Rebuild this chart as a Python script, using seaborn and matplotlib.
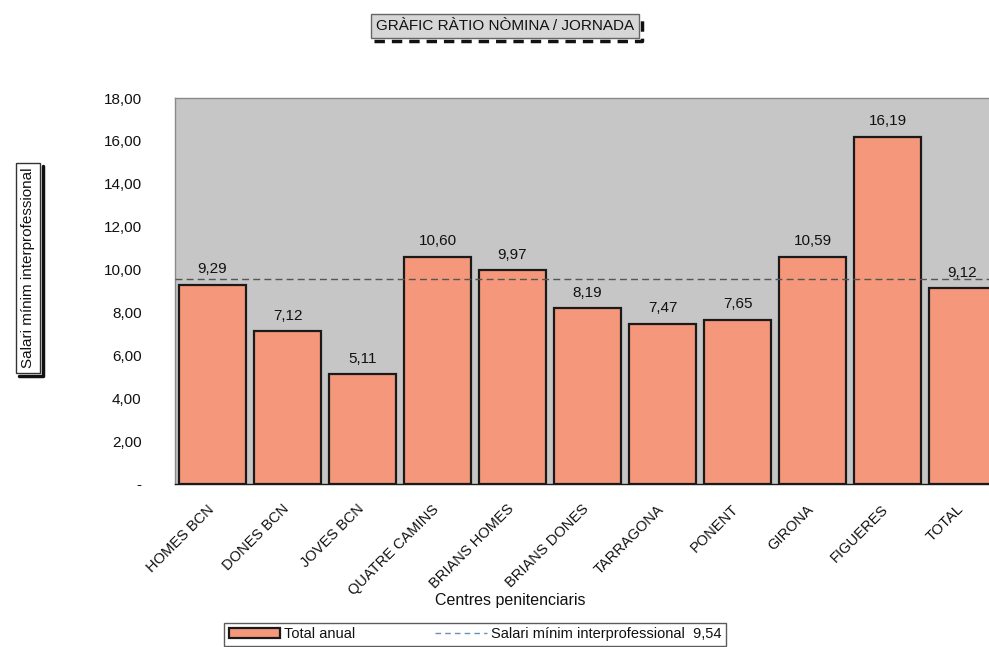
import matplotlib
matplotlib.use("Agg")
import matplotlib.pyplot as plt
import matplotlib.transforms as mtransforms
import seaborn as sns
import pandas as pd
from matplotlib.patches import Patch
from matplotlib.lines import Line2D

categories = ["HOMES BCN", "DONES BCN", "JOVES BCN", "QUATRE CAMINS", "BRIANS HOMES",
              "BRIANS DONES", "TARRAGONA", "PONENT", "GIRONA", "FIGUERES", "TOTAL"]
values = [9.29, 7.12, 5.11, 10.60, 9.97, 8.19, 7.47, 7.65, 10.59, 16.19, 9.12]
smi = 9.54
yticks = [0, 2, 4, 6, 8, 10, 12, 14, 16, 18]
ytick_labels = ["-", "2,00", "4,00", "6,00", "8,00", "10,00", "12,00", "14,00", "16,00", "18,00"]

sns.set_theme(style="white")
plt.rcParams['font.family'] = ['Liberation Sans', 'DejaVu Sans']

W, H = 989, 647
fig = plt.figure(figsize=(W / 100, H / 100), dpi=100)
ax = fig.add_axes([175 / W, (H - 484) / H, 825 / W, 386 / H])
ax.set_facecolor("#c6c6c6")

df = pd.DataFrame({"centre": categories, "valor": values})
bar_color = "#f4977b"
sns.barplot(data=df, x="centre", y="valor", color=bar_color, saturation=1, width=0.9,
            edgecolor="#1a1a1a", linewidth=1.6, ax=ax, zorder=2)

ax.axhline(smi, color="#555555", linestyle=(0, (5, 3)), linewidth=1.0, zorder=3)

for i, v in enumerate(values):
    ax.text(i, v + 0.4, f"{v:.2f}".replace(".", ","), ha="center", va="bottom",
            fontsize=11, color="#111111", zorder=4)

ax.set_xlim(-0.5, 10.5)
ax.set_ylim(0, 18)
ax.set_yticks(yticks)
ax.set_yticklabels(ytick_labels, fontsize=11, color="#111111")
ax.tick_params(axis="y", length=0, pad=24)
ax.tick_params(axis="x", length=0, pad=13)
ax.set_xticks(range(len(categories)))
ax.set_xticklabels(categories, rotation=45, ha="right", va="top", rotation_mode="anchor",
                   fontsize=10.5, color="#111111")
shift = mtransforms.ScaledTranslation(-6 / 100, 0, fig.dpi_scale_trans)
for lab in ax.get_xticklabels():
    lab.set_transform(lab.get_transform() + shift)
ax.set_xlabel("")
ax.set_ylabel("")
for s in ax.spines.values():
    s.set_color("#8a8a8a")
    s.set_linewidth(1.0)
ax.spines["bottom"].set_color("#1a1a1a")

# x label
fig.text(510 / W, 1 - 601 / H, "Centres penitenciaris", ha="center", va="center",
         fontsize=11.5, color="#111111")

# y label with box
ylab = fig.text(28 / W, 1 - 268 / H, "Salari mínim interprofessional", rotation=90,
                ha="center", va="center", fontsize=11, color="#111111",
                bbox=dict(boxstyle="square,pad=0.3", facecolor="white", edgecolor="#333333",
                          linewidth=1.0))

# title with box
title = fig.text(505 / W, 1 - 26 / H, "GRÀFIC RÀTIO NÒMINA / JORNADA", ha="center",
                 va="center", fontsize=11, color="#111111",
                 bbox=dict(boxstyle="square,pad=0.35", facecolor="#d6d6d6",
                           edgecolor="#666666", linewidth=1.0))

# legend
handles = [Patch(facecolor=bar_color, edgecolor="#1a1a1a", linewidth=1.6, label="Total anual"),
           Line2D([0], [0], color="#6a8fb8", linestyle=(0, (4, 3)), linewidth=1.0,
                  label="Salari mínim interprofessional  9,54")]
leg = fig.legend(handles=handles, loc="upper center", bbox_to_anchor=(475 / W, 1 - 623 / H),
                 ncol=2, frameon=True, fancybox=False, fontsize=10.5, columnspacing=5.5,
                 handlelength=3.5, handletextpad=0.3, borderpad=0.3, borderaxespad=0)
leg.get_frame().set_edgecolor("#333333")
leg.get_frame().set_linewidth(1.0)
for t in leg.get_texts():
    t.set_color("#111111")

# shadows for the boxed texts
fig.canvas.draw()
inv = fig.transFigure.inverted()
off = 3

bb = title.get_bbox_patch().get_window_extent()
x0, y0, x1, y1 = bb.x0, bb.y0, bb.x1, bb.y1
pts = [(x0 + off, y0 - off), (x1 + off, y0 - off), (x1 + off, y1 - off)]
fp = inv.transform(pts)
fig.add_artist(Line2D(fp[:, 0], fp[:, 1], color="#111111", linewidth=2.5,
                      linestyle=(0, (3, 2)), transform=fig.transFigure))

bb = ylab.get_bbox_patch().get_window_extent()
x0, y0, x1, y1 = bb.x0, bb.y0, bb.x1, bb.y1
pts = [(x0 + off, y0 - off), (x1 + off, y0 - off), (x1 + off, y1 - off)]
fp = inv.transform(pts)
fig.add_artist(Line2D(fp[:, 0], fp[:, 1], color="#111111", linewidth=2.5,
                      transform=fig.transFigure))

fig.savefig("out.png", dpi=100)
